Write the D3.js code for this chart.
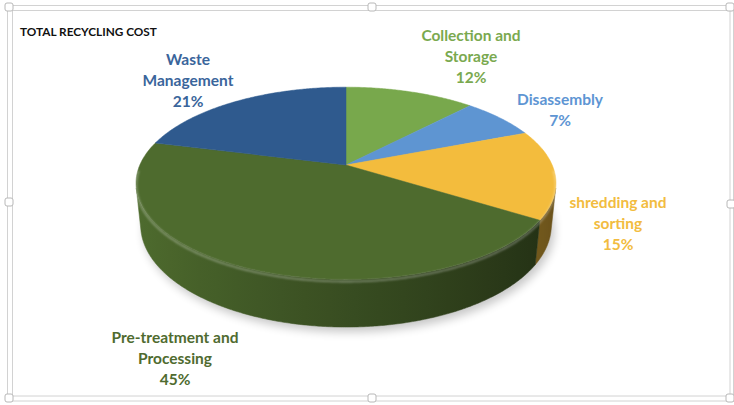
<!DOCTYPE html>
<html>
<head>
<meta charset="utf-8">
<script src="https://cdn.jsdelivr.net/npm/d3@7"></script>
<style>
  html, body { margin: 0; padding: 0; background: #ffffff; }
  svg { display: block; }
  text { font-family: Lato, "Open Sans", "Liberation Sans", sans-serif; font-weight: 700; }
</style>
</head>
<body>
<svg id="chart" width="734" height="405"></svg>
<script>
// ---- data ----
const categories = ["Collection and Storage", "Disassembly", "shredding and sorting", "Pre-treatment and Processing", "Waste Management"];
const shares = [12, 7, 15, 45, 21];
const labelLines = [["Collection and", "Storage"], ["Disassembly"], ["shredding and", "sorting"], ["Pre-treatment and", "Processing"], ["Waste", "Management"]];
const title = "TOTAL RECYCLING COST";

// ---- styling ----
const sliceColors = ["#78a84c", "#5e95d2", "#f3bc3d", "#4e6b2e", "#2f5a8e"];
const labelColors = ["#7aa94f", "#5e95d3", "#f2bc40", "#4f6b2f", "#3a659b"];

// label block placement: centre x, centre y of the first line
const labelPos = [[471, 35], [560, 99], [618, 202], [175, 337], [188, 59]];
const lineHeight = 21;

const W = 734, H = 405;
const svg = d3.select("#chart");

// ---- 3D perspective camera for the pie disc ----
const cx = 346, cy = 165;          // screen position of disc centre (top face)
const F = 969;                     // focal scale (px)
const D = 4.7;                     // camera distance in disc radii
const phi = 26.7 * Math.PI / 180;  // elevation
const sP = Math.sin(phi), cP = Math.cos(phi);
const thick = 0.229;               // disc thickness in radii

function project(theta, h, r = 1) {
  const X = r * Math.sin(theta), Z = r * Math.cos(theta);
  const v = Z * sP + h * cP;
  const w = D + Z * cP - h * sP;
  return [cx + F * X / w, cy - F * v / w];
}

const pie = d3.pie().sort(null).value(d => d).startAngle(0).endAngle(2 * Math.PI);
const arcs = pie(shares);

const defs = svg.append("defs");
defs.append("filter").attr("id", "shadowBlur").attr("x", "-20%").attr("y", "-20%").attr("width", "140%").attr("height", "140%")
  .append("feGaussianBlur").attr("stdDeviation", 5);
defs.append("filter").attr("id", "rimBlur")
  .append("feGaussianBlur").attr("stdDeviation", 0.8);

function arcPoints(a0, a1, h, step = Math.PI / 360) {
  const n = Math.max(2, Math.ceil((a1 - a0) / step));
  return d3.range(n + 1).map(i => project(a0 + (a1 - a0) * i / n, h));
}
const line = d3.line();

// ---- frame of the chart area ----
const frame = svg.append("g").attr("fill", "none").attr("stroke", "#d2d2d2").attr("stroke-width", 1);
frame.append("rect").attr("x", 7.5).attr("y", 5.5).attr("width", 726).attr("height", 395.5);
frame.append("rect").attr("x", 12.5).attr("y", 10.5).attr("width", 717.5).attr("height", 385.5);

// ---- title ----
svg.append("text").attr("x", 20).attr("y", 36).attr("font-size", 11.8).attr("fill", "#111")
  .text(title);

// ---- shadow under the disc ----
const bottomFull = arcPoints(0, 2 * Math.PI, -thick);
svg.append("path")
  .attr("d", line(bottomFull) + "Z")
  .attr("transform", "translate(3,5)")
  .attr("fill", "#000").attr("opacity", 0.22)
  .attr("filter", "url(#shadowBlur)");

// ---- side walls (only the part facing the camera) ----
const visHalf = Math.acos(1 / (D * cP));
const visA0 = Math.PI - visHalf, visA1 = Math.PI + visHalf;
const shade = t => 0.72 - 0.3 * Math.sin(t);

arcs.forEach((a, i) => {
  const b0 = Math.max(a.startAngle, visA0), b1 = Math.min(a.endAngle, visA1);
  if (b1 <= b0) return;
  const top = arcPoints(b0, b1, 0);
  const bot = arcPoints(b0, b1, -thick).reverse();
  const xs = top.map(p => p[0]);
  const xMin = d3.min(xs), xMax = d3.max(xs);
  const gid = "wall" + i;
  const g = defs.append("linearGradient").attr("id", gid)
    .attr("gradientUnits", "userSpaceOnUse")
    .attr("x1", xMin).attr("y1", 0).attr("x2", xMax).attr("y2", 0);
  const base = d3.rgb(sliceColors[i]);
  const n = 24;
  d3.range(n + 1).map(k => b0 + (b1 - b0) * k / n)
    .map(t => ({ t, x: project(t, 0)[0] }))
    .sort((p, q) => p.x - q.x)
    .forEach(p => {
      const k = shade(p.t);
      g.append("stop")
        .attr("offset", xMax > xMin ? (p.x - xMin) / (xMax - xMin) : 0)
        .attr("stop-color", d3.rgb(base.r * k, base.g * k, base.b * k).formatHex());
    });
  svg.append("path")
    .attr("d", line(top.concat(bot)) + "Z")
    .attr("fill", `url(#${gid})`)
    .attr("stroke", `url(#${gid})`).attr("stroke-width", 0.5);
});

// ---- top face slices ----
arcs.forEach((a, i) => {
  const pts = [[cx, cy]].concat(arcPoints(a.startAngle, a.endAngle, 0));
  svg.append("path")
    .attr("d", line(pts) + "Z")
    .attr("fill", sliceColors[i])
    .attr("stroke", sliceColors[i]).attr("stroke-width", 0.5);
});

// ---- bevel highlight along the front rim ----
svg.append("path")
  .attr("d", line(arcPoints(visA0 - 0.2, visA1 + 0.2, -0.01)))
  .attr("fill", "none")
  .attr("stroke", "#ffffff").attr("stroke-opacity", 0.35).attr("stroke-width", 1.8)
  .attr("filter", "url(#rimBlur)");

// ---- data labels ----
const fmt = v => d3.format("d")(v) + "%";
arcs.forEach((a, i) => {
  const lines = labelLines[i].concat([fmt(shares[i])]);
  const t = svg.append("text")
    .attr("text-anchor", "middle")
    .attr("font-size", 15.5)
    .attr("fill", labelColors[i]);
  lines.forEach((s, k) => {
    t.append("tspan")
      .attr("x", labelPos[i][0])
      .attr("y", labelPos[i][1] + k * lineHeight)
      .attr("dy", "0.36em")
      .text(s);
  });
});

// ---- selection handles ----
const handles = [[9, 7], [372, 7], [730, 7], [9, 202], [731, 204], [9, 398], [372, 398], [730, 398]];
svg.append("g").selectAll("rect").data(handles).join("rect")
  .attr("x", d => d[0] - 4).attr("y", d => d[1] - 4)
  .attr("width", 8).attr("height", 8).attr("rx", 2)
  .attr("fill", "#fff").attr("stroke", "#b8b8b8").attr("stroke-width", 1);
</script>
</body>
</html>
